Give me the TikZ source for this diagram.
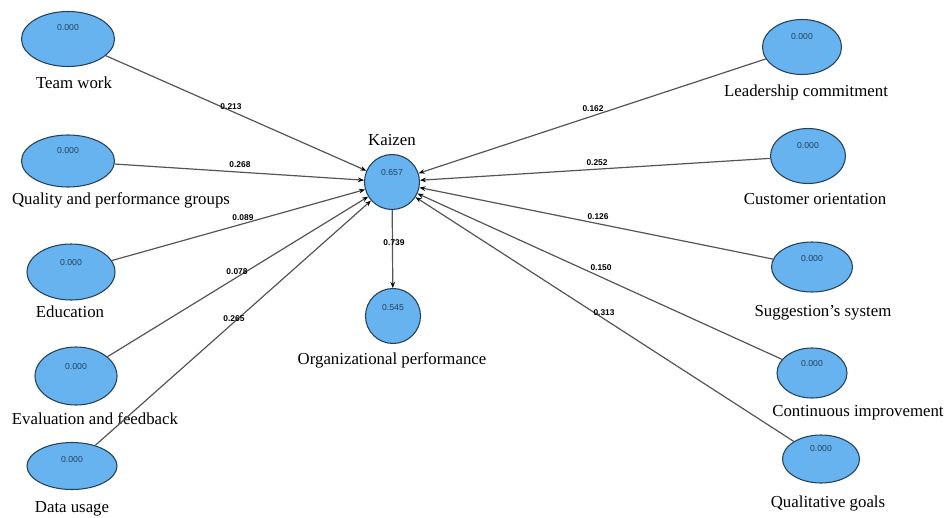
\documentclass[tikz,border=0pt]{standalone}
\usepackage{fontspec}
\setmainfont{Liberation Serif}
\newfontfamily\valfont{Liberation Sans}
\usetikzlibrary{shapes.geometric,arrows.meta}
\definecolor{latfill}{HTML}{67B3EF}
\definecolor{latdraw}{HTML}{24415C}
\definecolor{edgecol}{HTML}{555555}
\tikzset{
  lat/.style 2 args={ellipse, draw=latdraw, fill=latfill, line width=0.8pt, inner sep=0pt,
    minimum width=#1*0.75pt, minimum height=#2*0.75pt},
  valtxt/.style={font=\valfont\fontsize{6.5}{7.5}\selectfont, text=latdraw, inner sep=0pt},
  lbltxt/.style={font=\fontsize{12.6}{14}\selectfont, inner sep=0pt, anchor=base},
  elabel/.style={font=\valfont\fontsize{6.3}{7}\selectfont\bfseries, inner sep=0.5pt},
  conn/.style={draw=edgecol, line width=0.9pt, -{Stealth[length=4.5pt,width=3.5pt,black]}}
}
\begin{document}
\begin{tikzpicture}[x=0.75pt,y=-0.75pt]
\useasboundingbox (0,0) rectangle (944,517);
% left side
\node[lat={93}{55}] (tw) at (68,39) {};
\node[lat={93}{52}] (qp) at (68,161) {};
\node[lat={88}{56}] (ed) at (71,272) {};
\node[lat={82}{58}] (ef) at (76,376) {};
\node[lat={90}{47}] (du) at (72,466) {};
% right side
\node[lat={79}{55}] (lc) at (802,47) {};
\node[lat={75}{55}] (co) at (808,156) {};
\node[lat={81}{50}] (ss) at (812,267) {};
\node[lat={70}{50}] (ci) at (812,373) {};
\node[lat={77}{48}] (qg) at (821,459) {};
% centre
\node[circle, draw=latdraw, fill=latfill, line width=0.8pt, minimum size=55*0.75pt, inner sep=0pt] (kz) at (392,182) {};
\node[circle, draw=latdraw, fill=latfill, line width=0.8pt, minimum size=55*0.75pt, inner sep=0pt] (op) at (393,316) {};

% values
\node[valtxt] (tw-v) at (68,28) {0.000};
\node[valtxt] (qp-v) at (68,151) {0.000};
\node[valtxt] (ed-v) at (71,263) {0.000};
\node[valtxt] (ef-v) at (76,367) {0.000};
\node[valtxt] (du-v) at (72,460) {0.000};
\node[valtxt] (lc-v) at (802,37) {0.000};
\node[valtxt] (co-v) at (808,146) {0.000};
\node[valtxt] (ss-v) at (812,259) {0.000};
\node[valtxt] (ci-v) at (812,364) {0.000};
\node[valtxt] (qg-v) at (821,449) {0.000};
\node[valtxt] (kz-v) at (392,173) {0.657};
\node[valtxt] (op-v) at (393,308) {0.545};

% names
\node[lbltxt] (tw-n) at (74,88) {Team work};
\node[lbltxt] (qp-n) at (121,204) {Quality and performance groups};
\node[lbltxt] (ed-n) at (70,317) {Education};
\node[lbltxt] (ef-n) at (95,424) {Evaluation and feedback};
\node[lbltxt] (du-n) at (72,512) {Data usage};
\node[lbltxt] (lc-n) at (806,96) {Leadership commitment};
\node[lbltxt] (co-n) at (815,204) {Customer orientation};
\node[lbltxt] (ss-n) at (823,316) {Suggestion's system};
\node[lbltxt] (ci-n) at (858,416) {Continuous improvement};
\node[lbltxt] (qg-n) at (828,507) {Qualitative goals};
\node[lbltxt] (kz-n) at (392,145) {Kaizen};
\node[lbltxt] (op-n) at (392,364) {Organizational performance};

% edges
\draw[conn] (tw) -- (kz);
\draw[conn] (qp) -- (kz);
\draw[conn] (ed) -- (kz);
\draw[conn] (ef) -- (kz);
\draw[conn] (du) -- (kz);
\draw[conn] (lc) -- (kz);
\draw[conn] (co) -- (kz);
\draw[conn] (ss) -- (kz);
\draw[conn] (ci) -- (kz);
\draw[conn] (qg) -- (kz);
\draw[conn] (kz) -- (op);

% edge labels
\node[elabel] (l1) at (231,107) {0.213};
\node[elabel] (l2) at (240,165) {0.268};
\node[elabel] (l3) at (243,218) {0.089};
\node[elabel] (l4) at (237,272) {0.078};
\node[elabel] (l5) at (234,319) {0.265};
\node[elabel] (r1) at (593,109) {0.162};
\node[elabel] (r2) at (597,163) {0.252};
\node[elabel] (r3) at (598,217) {0.126};
\node[elabel] (r4) at (601,268) {0.150};
\node[elabel] (r5) at (604,313) {0.313};
\node[elabel] (m1) at (394,243) {0.739};
\end{tikzpicture}
\end{document}
